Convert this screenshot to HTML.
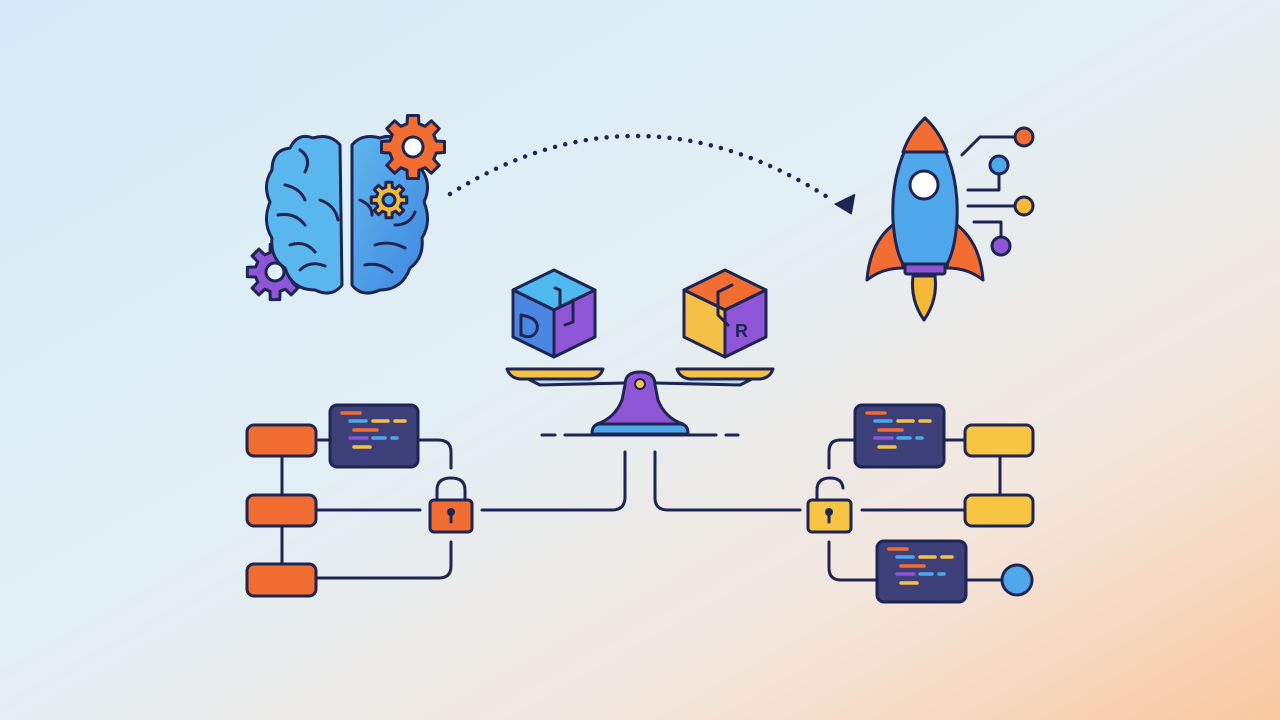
<!DOCTYPE html>
<html><head><meta charset="utf-8"><style>
html,body{margin:0;padding:0;width:1280px;height:720px;overflow:hidden}
</style></head><body>
<svg id="s" width="1280" height="720" viewBox="0 0 1280 720" xmlns="http://www.w3.org/2000/svg">
<defs>
<linearGradient id="bg" x1="0" y1="0" x2="1" y2="1">
<stop offset="0" stop-color="#d6ebf7"/>
<stop offset="0.45" stop-color="#e2eff6"/>
<stop offset="0.75" stop-color="#f3e6dc"/>
<stop offset="1" stop-color="#f9c8a0"/>
</linearGradient>
<linearGradient id="brainR" x1="0" y1="0" x2="1" y2="1">
<stop offset="0" stop-color="#5fb6ee"/><stop offset="1" stop-color="#3f86e0"/>
</linearGradient>
</defs>
<rect width="1280" height="720" fill="url(#bg)"/>

<g stroke="#1e2552" stroke-width="3" stroke-linecap="round" stroke-linejoin="round" fill="none">
<path d="M450 194 Q640 75 832 200" stroke-dasharray="0 10.5" stroke-width="4.5"/>
<polygon points="835,206 853,193 853,213" fill="#1e2552" stroke-width="1" transform="rotate(10 846 204)"/>

<g id="gp"></g>

<!-- brain left -->
<path d="M340 145 Q330 133 313 138 Q298 132 290 148 Q272 150 272 170 Q262 185 270 202 Q262 222 272 238 Q270 258 285 268 Q292 290 315 290 Q332 298 342 285 Z" fill="#5ab7ee"/>
<path d="M300 150 Q312 158 305 172 M285 185 Q300 188 305 200 M278 215 Q295 212 305 225 M290 245 Q305 240 315 252 M320 200 Q335 205 338 220 M300 270 Q310 260 325 266" />
<path d="M352 145 Q362 133 380 138 Q395 132 405 148 Q422 150 422 170 Q432 185 424 202 Q432 222 422 238 Q424 258 410 268 Q402 290 380 290 Q362 298 352 285 Z" fill="url(#brainR)"/>
<path d="M395 225 Q410 225 415 212 M375 245 Q390 240 405 248 M365 265 Q380 262 392 272 M360 200 Q372 205 372 215" />

<g id="gf"></g>

<!-- rocket -->
<path d="M897 222 Q870 240 867 280 Q882 268 903 268 Z" fill="#f26d32"/>
<path d="M953 222 Q980 240 983 280 Q968 268 947 268 Z" fill="#f26d32"/>
<path d="M913 276 L935 276 Q938 300 924 320 Q910 300 913 276 Z" fill="#f5b938"/>
<path d="M925 118 Q890 160 893 220 Q895 250 903 264 L947 264 Q955 250 957 220 Q960 160 925 118 Z" fill="#4ea7ea"/>
<path d="M925 118 Q910 132 903 152 L947 152 Q940 132 925 118 Z" fill="#f26d32"/>
<rect x="905" y="264" width="40" height="10" rx="2" fill="#8e55d6"/>
<circle cx="924" cy="185" r="14" fill="#fff"/>
<path d="M962 155 L980 137 L1014 137"/>
<circle cx="1024" cy="137" r="9" fill="#f26d32"/>
<path d="M968 190 L999 190 L999 174"/>
<circle cx="999" cy="165" r="9" fill="#4ea7ea"/>
<path d="M968 206 L1014 206"/>
<circle cx="1024" cy="206" r="9" fill="#f5b938"/>
<path d="M974 222 L1001 222 L1001 237"/>
<circle cx="1001" cy="246" r="9" fill="#8e55d6"/>

<!-- scale -->
<path d="M520 375 L540 385 L625 383 M760 375 L740 385 L655 383" stroke-width="3" fill="#bcdcf2"/>
<path d="M507 369 L603 369 Q600 378 590 379 L520 379 Q510 378 507 369 Z" fill="#f5c048"/>
<path d="M677 369 L773 369 Q770 378 760 379 L690 379 Q680 378 677 369 Z" fill="#f5c048"/>
<path d="M625 385 Q625 372 640 372 Q655 372 655 385 L658 400 Q665 418 683 424 L597 424 Q615 418 622 400 Z" fill="#8e55d6"/>
<circle cx="640" cy="384" r="5" fill="#f5c048" stroke-width="2"/>
<path d="M592 434 Q592 424 600 424 L680 424 Q688 424 688 434 Z" fill="#4ea7ea"/>
<path d="M542 435 L555 435 M565 435 L716 435 M726 435 L738 435"/>

<!-- cubes -->
<path d="M554 270 L595 290 L554 310 L513 290 Z" fill="#4fb8ec"/>
<path d="M513 290 L554 310 L554 357 L513 337 Z" fill="#4a86e2"/>
<path d="M554 310 L595 290 L595 337 L554 357 Z" fill="#8e55d6"/>
<path d="M555 288 L560 290 L560 305 M565 325 L573 322 L573 300"/>
<path d="M521 315 L521 335 M521 315 Q540 318 537 330 Q533 340 521 335" stroke-width="3"/>
<path d="M725 270 L766 290 L725 310 L684 290 Z" fill="#f26d32"/>
<path d="M684 290 L725 310 L725 357 L684 337 Z" fill="#f5c048"/>
<path d="M725 310 L766 290 L766 337 L725 357 Z" fill="#8e55d6"/>
<path d="M732 285 L718 292 L718 315 L728 325"/>
<text x="735" y="337" font-family="Liberation Sans, sans-serif" font-size="18" font-weight="bold" fill="#1e2552" stroke="none">R</text>

<!-- left diagram -->
<path d="M282 456 L282 564"/>
<path d="M316 440 L330 440"/>
<path d="M418 440 L438 440 Q451 440 451 452 L451 468"/>
<path d="M316 510 L420 510"/>
<path d="M482 510 L612 510 Q625 510 625 497 L625 452"/>
<path d="M451 542 L451 566 Q451 578 439 578 L316 578"/>
<rect x="247" y="425" width="69" height="31" rx="7" fill="#f26d32"/>
<rect x="247" y="495" width="69" height="31" rx="7" fill="#f26d32"/>
<rect x="247" y="564" width="69" height="32" rx="7" fill="#f26d32"/>
<rect x="330" y="405" width="88" height="62" rx="7" fill="#3c3f78"/>
<path d="M437 500 L437 490 Q437 478 451 478 Q465 478 465 490 L465 500"/>
<rect x="430" y="500" width="42" height="32" rx="4" fill="#f26d32"/>
<circle cx="451" cy="512" r="4" fill="#1e2552" stroke="none"/>
<path d="M451 514 L451 522" stroke-width="3"/>

<!-- right diagram -->
<path d="M1000 456 L1000 495"/>
<path d="M944 440 L965 440"/>
<path d="M855 440 L840 440 Q829 440 829 452 L829 468"/>
<path d="M655 452 L655 498 Q655 510 668 510 L800 510"/>
<path d="M862 510 L965 510"/>
<path d="M829 542 L829 568 Q829 580 841 580 L877 580"/>
<path d="M966 580 L1003 580"/>
<rect x="965" y="425" width="68" height="31" rx="7" fill="#f8c443"/>
<rect x="965" y="495" width="68" height="31" rx="7" fill="#f8c443"/>
<rect x="855" y="405" width="89" height="62" rx="7" fill="#3c3f78"/>
<rect x="877" y="541" width="89" height="61" rx="7" fill="#3c3f78"/>
<circle cx="1017" cy="580" r="15" fill="#4ea7ea"/>
<path d="M817 500 L817 490 Q817 478 830 478 Q842 478 843 488"/>
<rect x="808" y="500" width="43" height="32" rx="4" fill="#f8c443"/>
<circle cx="829" cy="512" r="4" fill="#1e2552" stroke="none"/>
<path d="M829 514 L829 522" stroke-width="3"/>
</g>

<g stroke-width="3.5" stroke-linecap="round">
<g transform="translate(330 405)">
<path d="M12 8 L30 8" stroke="#f26d32"/>
<path d="M20 16 L36 16" stroke="#4ea7ea"/><path d="M43 16 L58 16" stroke="#f5c048"/><path d="M65 16 L75 16" stroke="#f5c048"/>
<path d="M24 25 L47 25" stroke="#f26d32"/>
<path d="M20 33 L37 33" stroke="#8e55d6"/><path d="M43 33 L55 33" stroke="#4ea7ea"/><path d="M62 33 L67 33" stroke="#4ea7ea"/>
<path d="M24 42 L40 42" stroke="#f5c048"/>
</g>
<g transform="translate(855 405)">
<path d="M12 8 L30 8" stroke="#f26d32"/>
<path d="M20 16 L36 16" stroke="#4ea7ea"/><path d="M43 16 L58 16" stroke="#f5c048"/><path d="M65 16 L75 16" stroke="#f5c048"/>
<path d="M24 25 L47 25" stroke="#f26d32"/>
<path d="M20 33 L37 33" stroke="#8e55d6"/><path d="M43 33 L55 33" stroke="#4ea7ea"/><path d="M62 33 L67 33" stroke="#4ea7ea"/>
<path d="M24 42 L40 42" stroke="#f5c048"/>
</g>
<g transform="translate(877 541)">
<path d="M12 8 L30 8" stroke="#f26d32"/>
<path d="M20 16 L36 16" stroke="#4ea7ea"/><path d="M43 16 L58 16" stroke="#f5c048"/><path d="M65 16 L75 16" stroke="#f5c048"/>
<path d="M24 25 L47 25" stroke="#f26d32"/>
<path d="M20 33 L37 33" stroke="#8e55d6"/><path d="M43 33 L55 33" stroke="#4ea7ea"/><path d="M62 33 L67 33" stroke="#4ea7ea"/>
<path d="M24 42 L40 42" stroke="#f5c048"/>
</g>
</g>
</svg>
<script>
function gear(id,cx,cy,ro,ri,n,fill,hr,hf){
  var pts=[],step=Math.PI*2/n;
  for(var i=0;i<n;i++){
    var a=i*step;
    var a1=a-step*0.22,a2=a+step*0.22,a3=a+step*0.32,a4=a+step*0.68;
    pts.push([cx+ro*Math.cos(a1),cy+ro*Math.sin(a1)]);
    pts.push([cx+ro*Math.cos(a2),cy+ro*Math.sin(a2)]);
    pts.push([cx+ri*Math.cos(a3),cy+ri*Math.sin(a3)]);
    pts.push([cx+ri*Math.cos(a4),cy+ri*Math.sin(a4)]);
  }
  var ns="http://www.w3.org/2000/svg",g=document.getElementById(id);
  var p=document.createElementNS(ns,"polygon");
  p.setAttribute("points",pts.map(function(q){return q[0].toFixed(1)+","+q[1].toFixed(1)}).join(" "));
  p.setAttribute("fill",fill);g.appendChild(p);
  var c=document.createElementNS(ns,"circle");
  c.setAttribute("cx",cx);c.setAttribute("cy",cy);c.setAttribute("r",hr);c.setAttribute("fill",hf);g.appendChild(c);
}
gear("gp",275,272,28,20,8,"#8e55d6",9,"#e0f0f8");
gear("gf",413,147,32,24,8,"#f26d32",10,"#ffffff");
gear("gf",389,200,18,13,8,"#f5b938",6,"#4da3e8");
</script>
</body></html>
